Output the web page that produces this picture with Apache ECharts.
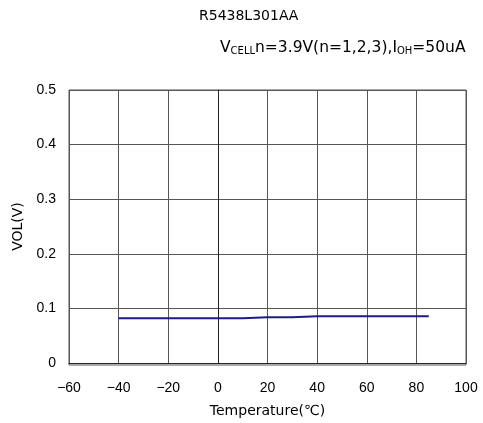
<!DOCTYPE html>
<html lang="en">
<head>
<meta charset="UTF-8">
<title>R5438L301AA VOL</title>
<script src="https://cdn.jsdelivr.net/npm/echarts@6/dist/echarts.min.js"></script>
<style>
    html,body{margin:0;padding:0;background:#fff;}
    #chart{width:483px;height:423px;}
</style>
</head>
<body>
<div id="chart"></div>
<script>
    // values
    var temps=[-40,-30,-20,0,10,20,25,30,40,60,80,85];
    var vol=[0.082,0.082,0.082,0.082,0.082,0.084,0.084,0.084,0.0855,0.0857,0.0857,0.0857];
    var xTicks=[-60,-40,-20,0,20,40,60,80,100];
    var yTicks=[0,0.1,0.2,0.3,0.4,0.5];

    var pts=[];
    for(var i=0;i<temps.length;i++){
        pts.push([temps[i],vol[i]]);
    }

    var font='"Liberation Sans", Arial, sans-serif';
    var wide='"DejaVu Sans", sans-serif';
    var chart=echarts.init(document.getElementById('chart'));
    chart.setOption({
        animation:false,
        textStyle:{fontFamily:font},
        title:[{
            text:'R5438L301AA',
            left:199,top:9,padding:0,
            textStyle:{fontSize:14,fontWeight:'normal',color:'#000',fontFamily:wide}
        },{
            text:'V{s|CELL}n=3.9V(n=1,2,3),I{s|OH}=50uA',
            left:220,top:39,padding:0,
            textStyle:{fontSize:15.5,fontWeight:'normal',color:'#000',fontFamily:wide,
                rich:{s:{fontSize:10,verticalAlign:'bottom',padding:[7,0,0,0],fontFamily:wide}}}
        }],
        grid:{left:69,right:17,top:90,bottom:58,containLabel:false},
        xAxis:{
            type:'value',min:xTicks[0],max:xTicks[xTicks.length-1],interval:20,
            name:'Temperature(℃)',nameLocation:'middle',nameGap:41,
            nameTextStyle:{fontSize:14,color:'#000',fontFamily:wide},
            axisLine:{lineStyle:{color:'#222',width:1}},
            axisTick:{show:false},
            axisLabel:{fontSize:14,color:'#000',margin:18,fontFamily:font,
                formatter:function(v){return v<0?'\u2212'+(-v):v;}},
            splitLine:{show:true,lineStyle:{color:'#555',width:1}}
        },
        yAxis:{
            type:'value',min:yTicks[0],max:yTicks[yTicks.length-1],interval:0.1,
            name:'VOL(V)',nameLocation:'middle',nameGap:39,
            nameTextStyle:{fontSize:14,color:'#000',fontFamily:wide},
            axisLine:{show:true,lineStyle:{color:'#222',width:1}},
            axisTick:{show:false},
            axisLabel:{fontSize:14,color:'#000',margin:13,fontFamily:font,
                formatter:function(v){return v===0?'0':v.toFixed(1);}},
            splitLine:{show:true,lineStyle:{color:'#555',width:1}}
        },
        series:[{
            type:'line',
            data:pts,
            showSymbol:false,
            lineStyle:{color:'#1c1c8a',width:2}
        }],
        graphic:[{
            type:'rect',
            shape:{x:69,y:90,width:397,height:275},
            style:{fill:'none',stroke:'#555',lineWidth:1},
            silent:true
        }]
    });
</script>
</body>
</html>
